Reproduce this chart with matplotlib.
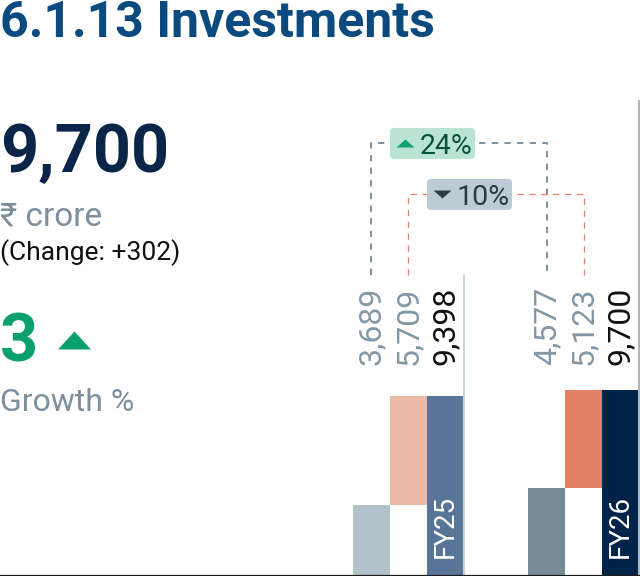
import matplotlib.pyplot as plt
import numpy as np
from matplotlib.patches import FancyBboxPatch

# data
years = ['FY25', 'FY26']
opening = [3689, 4577]
added = [5709, 5123]
total = [9398, 9700]

grey_c = ['#b3c1ca', '#768b97']
salmon_c = ['#ecb9a6', '#e07f66']
blue_c = ['#587598', '#00234a']
label_grey = '#8398a4'

plt.rcParams['font.family'] = ['Roboto', 'DejaVu Sans']

W, H = 640, 577
fig = plt.figure(figsize=(W / 100, H / 100), dpi=100)

# bar axes (spans the whole width, baseline at the bottom)
ax = fig.add_axes([0, 1.5 / H, 1, 575.5 / H])
ax.set_xlim(-408 / 175.5, 232 / 175.5)
ax.set_ylim(0, 30050)
ax.axis('off')

x = np.arange(len(years))
w = 37 / 175.5

ax.bar(x - w, opening, w, color=grey_c)
ax.bar(x, added, w, bottom=opening, color=salmon_c)
ax.bar(x + w, total, w, color=blue_c)

label_y = 11000
for i in range(len(years)):
    for dx, v, c in [(-w, opening[i], label_grey), (0, added[i], label_grey), (w, total[i], '#111111')]:
        ax.text(x[i] + dx, label_y, f'{v:,}', rotation=90, ha='center', va='bottom',
                fontsize=23, color=c)
    ax.text(x[i] + w, 900, years[i], rotation=90, ha='center', va='bottom',
            fontsize=20, color='white')

ax.vlines(x + 1.5 * w, 0, [15700, 24830], colors=['#c9d3da', '#aab8c3'], lw=1.5)
ax.axhline(0, color='#1a1a1a', lw=1.6)

# connectors between years
conn_bot = 15700
top1, top2 = 22560, 19900
ax.plot([x[0] - w, x[0] - w, x[1] - w, x[1] - w], [conn_bot, top1, top1, conn_bot],
        color='#71899a', lw=1.3, ls=(0, (3.5, 3.5)))
ax.plot([x[0], x[0], x[1], x[1]], [conn_bot, top2, top2, conn_bot],
        color='#e4806a', lw=0.9, ls=(0, (5, 4.5)))

# overlay in pixel coords for text + badges
ov = fig.add_axes([0, 0, 1, 1])
ov.set_xlim(0, W)
ov.set_ylim(H, 0)
ov.axis('off')


def px(xd, yd):
    X, Y = ax.transData.transform((xd, yd))
    return X, H - Y


up_tri = [(-1, 0), (1, 0), (0, 0.9)]
down_tri = [(-1, 0.9), (1, 0.9), (0, 0)]


def badge(xd, yd, pct):
    bx, by = px(xd, yd)
    left = bx + 19
    up = pct >= 0
    face = '#b9e4d4' if up else '#bdcbd4'
    tri_col = '#10a070' if up else '#2e3a42'
    txt_col = '#0c4f3a' if up else '#2e3a42'
    ov.add_patch(FancyBboxPatch((left, by - 15.5), 85, 31,
                                boxstyle='round,pad=0,rounding_size=4', fc=face, ec='none'))
    ov.plot(left + 15, by + 3.4, marker=up_tri if up else down_tri, ms=17.7 * 0.72,
            color=tri_col, mew=0)
    ov.text(left + 30, by + 10.5, f'{abs(pct)}%', fontsize=20.5, color=txt_col,
            ha='left', va='baseline')


pct_open = round((opening[1] - opening[0]) / opening[0] * 100)
pct_added = round((added[1] - added[0]) / added[0] * 100)
badge(x[0] - w, top1, pct_open)
badge(x[0], top2, pct_added)

# left hand text block
ov.text(0, 37, '6.1.13 Investments', fontsize=36, fontweight='bold', color='#0b4a7e', va='baseline')
ov.text(0, 172, f'{total[-1]:,}', fontsize=48, fontweight='bold', color='#0a2548', va='baseline')
ov.text(0, 225, '\u20b9 crore', fontsize=24, color='#7b909c', va='baseline')
ov.text(0, 260, f'(Change: {total[-1] - total[0]:+,})', fontsize=19, color='#111111', va='baseline')
growth = round((total[-1] - total[0]) / total[0] * 100)
ov.text(0, 361, f'{growth}', fontsize=48, fontweight='bold', color='#0aa06e', va='baseline')
ov.plot(73.5, 348.5, marker=[(-1, 0), (1, 0), (0, 1.09)], ms=25.9, color='#0aa06e', mew=0)
ov.text(0, 411, 'Growth %', fontsize=23, color='#7b909c', va='baseline')

fig.savefig('out.png', dpi=100)
